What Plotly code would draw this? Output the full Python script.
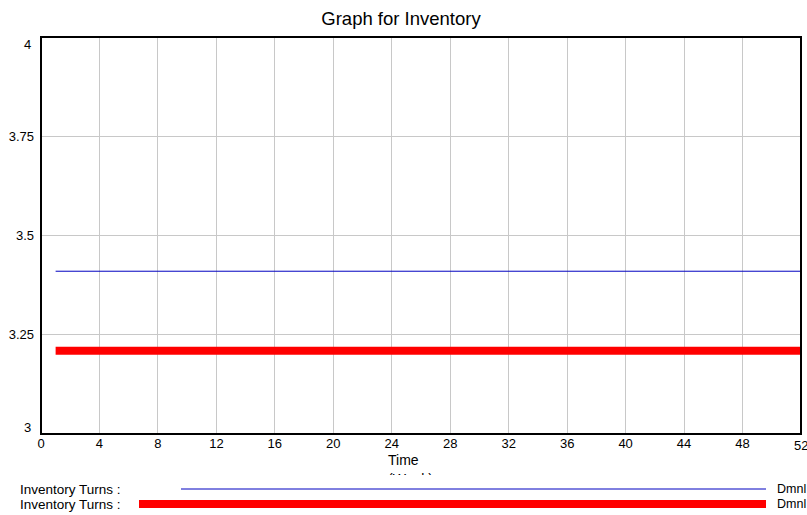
import plotly.graph_objects as go

# weekly time axis
time = list(range(1, 53))
# two runs of Inventory Turns (Dmnl), flat over the run
turns_run1 = [3.41] * 52
turns_run2 = [3.21] * 52

x_ticks = list(range(0, 53, 4))
x_tick_text = [str(t) for t in x_ticks[:-1]] + [""]
y_ticks = [3, 3.25, 3.5, 3.75, 4]
y_tick_text = ["", "3.25", "3.5", "3.75", ""]

legend_labels = ["Inventory Turns :", "Inventory Turns :"]
units = ["Dmnl", "Dmnl"]

font = "Liberation Sans, Arial, sans-serif"
W, H = 807, 515

fig = go.Figure()
fig.add_trace(go.Scatter(x=time, y=turns_run1, mode="lines",
                         line=dict(color="#0000c0", width=1), showlegend=False))
fig.add_trace(go.Scatter(x=time, y=turns_run2, mode="lines",
                         line=dict(color="#ff0000", width=8), showlegend=False))

# pixel -> paper helpers for the custom legend below the plot
L, R, T, B = 41, 801, 37, 434
def px(x):
    return (x - L) / (R - L)
def py(y):
    return (B - y) / (B - T)

def label(text, x, y, size=13, xanchor="center", **kw):
    return dict(text=text, x=px(x), y=py(y), xref="paper", yref="paper",
                xanchor=xanchor, yanchor="middle", showarrow=False,
                font=dict(size=size, color="black"), **kw)

annotations = [
    # end tick labels sit inside / past the plot range in the original
    label("4", 33, 44, xanchor="right"),
    label("3", 33, 427, xanchor="right"),
    label(str(x_ticks[-1]), 801, 445),
    label("Time", 403, 460, size=14),
    label("(Week)", 410, 479, size=14),
]
# cover the lower part of the unit label, as it's clipped in the original
annotations.append(dict(text="", x=px(410), y=py(475), xref="paper", yref="paper",
                        xanchor="center", yanchor="top", showarrow=False,
                        width=90, height=13, bgcolor="white", borderpad=0, borderwidth=0))

shapes = []
legend_rows = [(489, 181, "#0000c0", 1), (504, 139, "#ff0000", 8)]
for (row_y, x0, color, w), name, unit in zip(legend_rows, legend_labels, units):
    annotations.append(label(name, 18, row_y, size=13.5, xanchor="left"))
    annotations.append(label(unit, 776, row_y, size=12.5, xanchor="left", borderpad=0))
    shapes.append(dict(type="line", xref="paper", yref="paper",
                       x0=px(x0), x1=px(766), y0=py(row_y), y1=py(row_y),
                       line=dict(color=color, width=w)))

# frame around the plot area
shapes.append(dict(type="rect", xref="paper", yref="paper", x0=0, x1=1, y0=0, y1=1,
                   line=dict(color="black", width=2), layer="above"))

fig.update_layout(
    width=W, height=H,
    margin=dict(l=L, r=W - R, t=T, b=H - B),
    paper_bgcolor="white", plot_bgcolor="white",
    font=dict(family=font, size=13, color="black"),
    title=dict(text="Graph for Inventory", x=401 / W, xanchor="center",
               y=1 - 19 / H, yanchor="middle", font=dict(size=18.5)),
    xaxis=dict(range=[0, 52], tickvals=x_ticks, ticktext=x_tick_text, showgrid=True,
               gridcolor="#c8c8c8", zeroline=False, showline=False, ticks="",
               tickfont=dict(size=13)),
    yaxis=dict(range=[3, 4], tickvals=y_ticks, ticktext=y_tick_text, showgrid=True,
               gridcolor="#c8c8c8", zeroline=False, showline=False, ticks="",
               tickfont=dict(size=13), ticklabelstandoff=6),
    annotations=annotations,
    shapes=shapes,
)

fig.write_html("out.html", config={"displayModeBar": False},
               post_script="document.body.style.margin='0';"
                           "document.documentElement.style.overflow='hidden';")
